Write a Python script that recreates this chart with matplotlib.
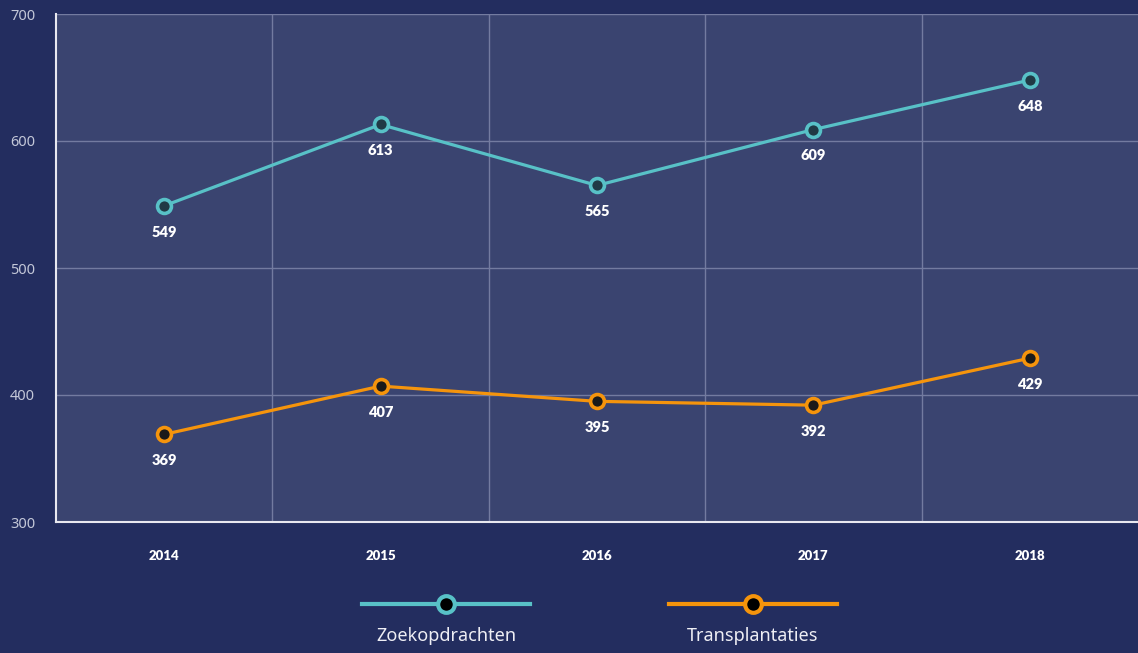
import matplotlib.pyplot as plt
from matplotlib.lines import Line2D

years = ['2014', '2015', '2016', '2017', '2018']
zoek = [549, 613, 565, 609, 648]
trans = [369, 407, 395, 392, 429]
y_ticks = [300, 400, 500, 600, 700]

teal = '#58c1c7'
orange = '#f5940c'
bg = '#232d5f'
plot_bg = '#3a4470'

plt.rcParams['font.family'] = ['Noto Sans', 'DejaVu Sans']
bold_font = ['Lato', 'DejaVu Sans']

fig = plt.figure(figsize=(11.38, 6.53), dpi=100, facecolor=bg)
ax = fig.add_axes([56 / 1138, 1 - 522 / 653, 1 - 56 / 1138, (522 - 14) / 653])
ax.set_facecolor(plot_bg)

x = list(range(len(years)))
ax.plot(x, zoek, color=teal, lw=2.3, marker='o', ms=10, mfc='#203a45', mec=teal, mew=2.6, zorder=3)
ax.plot(x, trans, color=orange, lw=2.3, marker='o', ms=10, mfc='#1a1a1a', mec=orange, mew=2.6, zorder=3)

for xi, v in zip(x, zoek):
    ax.annotate(str(v), (xi, v), xytext=(0, -19), textcoords='offset points',
                ha='center', va='center', color='white', fontsize=10.5,
                fontweight='heavy', family=bold_font)
for xi, v in zip(x, trans):
    ax.annotate(str(v), (xi, v), xytext=(0, -19), textcoords='offset points',
                ha='center', va='center', color='white', fontsize=10.5,
                fontweight='heavy', family=bold_font)

ax.set_xlim(-0.5, len(years) - 0.5)
ax.set_ylim(300, 700)
ax.set_yticks(y_ticks)
ax.set_xticks(x)
ax.set_xticklabels(years, fontweight='heavy', fontsize=9.5, color='white', family=bold_font)
ax.set_xticks([i + 0.5 for i in x[:-1]], minor=True)
ax.tick_params(axis='x', which='both', length=0, pad=20)
ax.tick_params(axis='y', length=0, pad=15, labelcolor='#c3c7d8', labelsize=10.5)
ax.grid(axis='y', color='#737ba0', lw=1)
ax.grid(axis='x', which='minor', color='#737ba0', lw=1)
ax.set_axisbelow(True)

for s in ['top', 'right']:
    ax.spines[s].set_visible(False)
for s in ['left', 'bottom']:
    ax.spines[s].set_color('#e8e8f0')
    ax.spines[s].set_linewidth(1.5)

# legend drawn below the chart
W, H = 1138, 653
for cx, col, label in [(446, teal, 'Zoekopdrachten'), (753, orange, 'Transplantaties')]:
    fig.add_artist(Line2D([(cx - 84) / W, (cx + 84) / W], [1 - 604 / H] * 2,
                          color=col, lw=3, transform=fig.transFigure))
    fig.add_artist(Line2D([cx / W], [1 - 604 / H], marker='o', ms=12, mfc='black',
                          mec=col, mew=3, transform=fig.transFigure))
    fig.text(cx / W, 1 - 636 / H, label, ha='center', va='center',
             color='#eeeef4', fontsize=13)

fig.savefig('out.png', dpi=100, facecolor=bg)
